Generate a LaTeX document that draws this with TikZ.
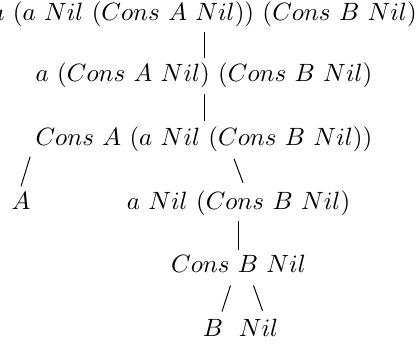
\documentclass[tikz,border=0pt]{standalone}
\usepackage{amsmath,amssymb}
\usetikzlibrary{positioning,calc}

\begin{document}
\begin{tikzpicture}[
    x=0.4pt, y=-0.4pt,
    every node/.style={anchor=base, inner sep=2pt, font=\normalsize},
    branch/.style={draw, line width=0.4pt}
]
    \useasboundingbox (0,0) rectangle (417,345);

    % terms, one per row
    \node (top)   at (204,20.5)  {$a\ (a\ Nil\ (Cons\ A\ Nil))\ (Cons\ B\ Nil)$};
    \node (step1) at (204,82)    {$a\ (Cons\ A\ Nil)\ (Cons\ B\ Nil)$};
    \node (cons1) at (204,145)   {$Cons\ A\ (a\ Nil\ (Cons\ B\ Nil))$};
    \node (hd1)   at (21,209)    {$A$};
    \node (tl1)   at (238.5,209) {$a\ Nil\ (Cons\ B\ Nil)$};
    \node (cons2) at (238.5,272.5) {$Cons\ B\ Nil$};
    \node (hd2)   at (213,336)   {$B$};
    \node (tl2)   at (258.5,336) {$Nil$};

    % branches
    \path[branch] (top.south) -- (step1.north);
    \path[branch] (step1.south) -- (cons1.north);
    \path[branch] (cons1.south west) -- (hd1.north);
    \path[branch] ($(cons1.south)+(30,2)$) -- ($(tl1.north)+(4.5,-2)$);
    \path[branch] (tl1.south) -- (cons2.north);
    \path[branch] ($(cons2.south)+(-8,7.5)$) -- ($(hd2.north)+(9,-2)$);
    \path[branch] ($(cons2.south)+(15,7.5)$) -- ($(tl2.north)+(4,-2.5)$);
\end{tikzpicture}
\end{document}
